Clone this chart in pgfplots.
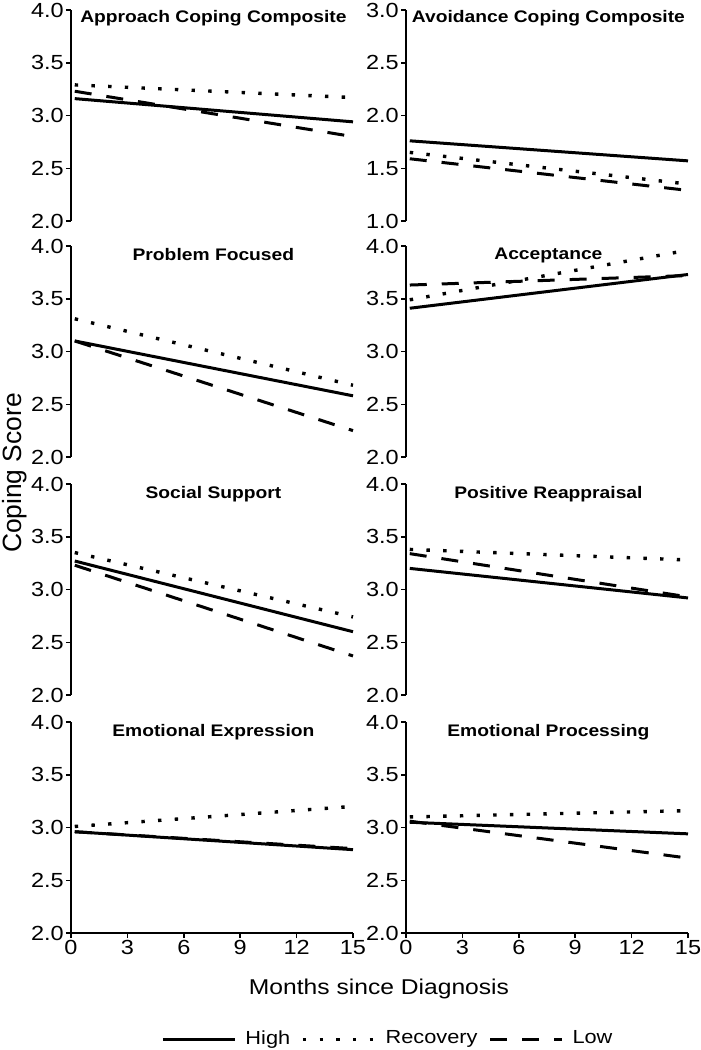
\documentclass[border=0pt]{standalone}
\usepackage{fontspec}
\setmainfont{Liberation Sans}[FakeStretch=1.15]
\newfontfamily\ylabfont{Liberation Sans}
\usepackage{pgfplots}
\pgfplotsset{compat=1.18}
\tikzset{ptitle/.style={anchor=north, inner sep=0pt, yshift=-2bp, font=\bfseries\fontsize{16.8}{18}\selectfont}}
\pgfplotsset{
  high/.style={black, line width=3bp, solid},
  reco/.style={black, line width=3.4bp, dash pattern=on 3.4bp off 13.3bp},
  low/.style={black, line width=3bp, dash pattern=on 17bp off 15bp},
  panel/.style={
    scale only axis, width=282bp, height=211bp,
    xmin=0, xmax=15,
    axis y line*=left,
    axis line style={-, line width=1.5bp, black},
    tick align=outside, major tick length=5bp,
    tick style={black, line width=1.5bp},
    yticklabel style={font=\fontsize{20.5}{22}\selectfont, inner sep=2bp,
      /pgf/number format/.cd, fixed, fixed zerofill, precision=1, assume math mode=true},
    clip=false,
  },
  toprow/.style={axis x line=none, xtick=\empty},
  botrow/.style={axis x line*=bottom, xtick={0,3,6,9,12,15},
    xticklabel style={font=\fontsize{20.5}{22}\selectfont, inner sep=2.5bp,
      /pgf/number format/assume math mode=true}},
}
\begin{document}
\begin{tikzpicture}
% Row 1 left
\begin{axis}[panel, toprow, at={(71bp,-10bp)}, anchor=north west, ymin=2, ymax=4, ytick={2,2.5,3,3.5,4}]
\addplot[high] coordinates {(0.2,3.16) (15,2.94)};
\addplot[reco] coordinates {(0.2,3.29) (15,3.17)};
\addplot[low] coordinates {(0.2,3.23) (15,2.80)};
\node[ptitle, yshift=2bp] at (axis description cs:0.505,1) {Approach Coping Composite};
\end{axis}
% Row 1 right
\begin{axis}[panel, toprow, at={(406bp,-10bp)}, anchor=north west, ymin=1, ymax=3, ytick={1,1.5,2,2.5,3}]
\addplot[high] coordinates {(0.2,1.76) (15,1.57)};
\addplot[reco] coordinates {(0.2,1.65) (15,1.35)};
\addplot[low] coordinates {(0.2,1.59) (15,1.29)};
\node[ptitle, yshift=2bp] at (axis description cs:0.505,1) {Avoidance Coping Composite};
\end{axis}
% Row 2 left
\begin{axis}[panel, toprow, at={(71bp,-246bp)}, anchor=north west, ymin=2, ymax=4, ytick={2,2.5,3,3.5,4}]
\addplot[high] coordinates {(0.2,3.10) (15,2.58)};
\addplot[reco] coordinates {(0.2,3.31) (15,2.68)};
\addplot[low] coordinates {(0.2,3.10) (15,2.25)};
\node[ptitle] at (axis description cs:0.505,1) {Problem Focused};
\end{axis}
% Row 2 right
\begin{axis}[panel, toprow, at={(406bp,-246bp)}, anchor=north west, ymin=2, ymax=4, ytick={2,2.5,3,3.5,4}]
\addplot[high] coordinates {(0.2,3.41) (15,3.73)};
\addplot[reco] coordinates {(0.2,3.49) (15,3.96)};
\addplot[low] coordinates {(0.2,3.63) (15,3.72)};
\node[ptitle] at (axis description cs:0.505,1) {Acceptance};
\end{axis}
% Row 3 left
\begin{axis}[panel, toprow, at={(71bp,-484bp)}, anchor=north west, ymin=2, ymax=4, ytick={2,2.5,3,3.5,4}]
\addplot[high] coordinates {(0.2,3.27) (15,2.60)};
\addplot[reco] coordinates {(0.2,3.35) (15,2.74)};
\addplot[low] coordinates {(0.2,3.23) (15,2.37)};
\node[ptitle] at (axis description cs:0.505,1) {Social Support};
\end{axis}
% Row 3 right
\begin{axis}[panel, toprow, at={(406bp,-484bp)}, anchor=north west, ymin=2, ymax=4, ytick={2,2.5,3,3.5,4}]
\addplot[high] coordinates {(0.2,3.20) (15,2.92)};
\addplot[reco] coordinates {(0.2,3.38) (15,3.28)};
\addplot[low] coordinates {(0.2,3.34) (15,2.93)};
\node[ptitle] at (axis description cs:0.505,1) {Positive Reappraisal};
\end{axis}
% Row 4 left
\begin{axis}[panel, botrow, at={(71bp,-722bp)}, anchor=north west, ymin=2, ymax=4, ytick={2,2.5,3,3.5,4},
  legend columns=3,
  legend style={at={(axis description cs:1.124,-0.452)}, anchor=north, draw=none, fill=none,
    inner sep=0pt, font=\fontsize{19}{20}\selectfont,
    /tikz/every odd column/.append style={column sep=7bp},
    /tikz/every even column/.append style={column sep=9bp}},
  legend image code/.code={\draw[#1] (0bp,-1.5bp) -- (72bp,-1.5bp);}]
\addplot[high] coordinates {(0.2,2.96) (15,2.79)};
\addplot[reco] coordinates {(0.2,3.01) (15,3.20)};
\addplot[low] coordinates {(0.2,2.96) (15,2.80)};
\legend{High, Recovery, Low}
\node[ptitle] at (axis description cs:0.505,1) {Emotional Expression};
\end{axis}
% Row 4 right
\begin{axis}[panel, botrow, at={(406bp,-722bp)}, anchor=north west, ymin=2, ymax=4, ytick={2,2.5,3,3.5,4}]
\addplot[high] coordinates {(0.2,3.05) (15,2.94)};
\addplot[reco] coordinates {(0.2,3.10) (15,3.16)};
\addplot[low] coordinates {(0.2,3.06) (15,2.71)};
\node[ptitle] at (axis description cs:0.505,1) {Emotional Processing};
\end{axis}
% axis labels
\node[anchor=base, font=\fontsize{21.5}{24}\selectfont] at (379bp,-994bp) {Months since Diagnosis};
\node[rotate=90, anchor=center, font=\ylabfont\fontsize{26.5}{28}\selectfont] at (15bp,-473bp) {Coping Score};
\pgfresetboundingbox
\path (0,0) rectangle (701bp,-1050bp);
\end{tikzpicture}
\end{document}
